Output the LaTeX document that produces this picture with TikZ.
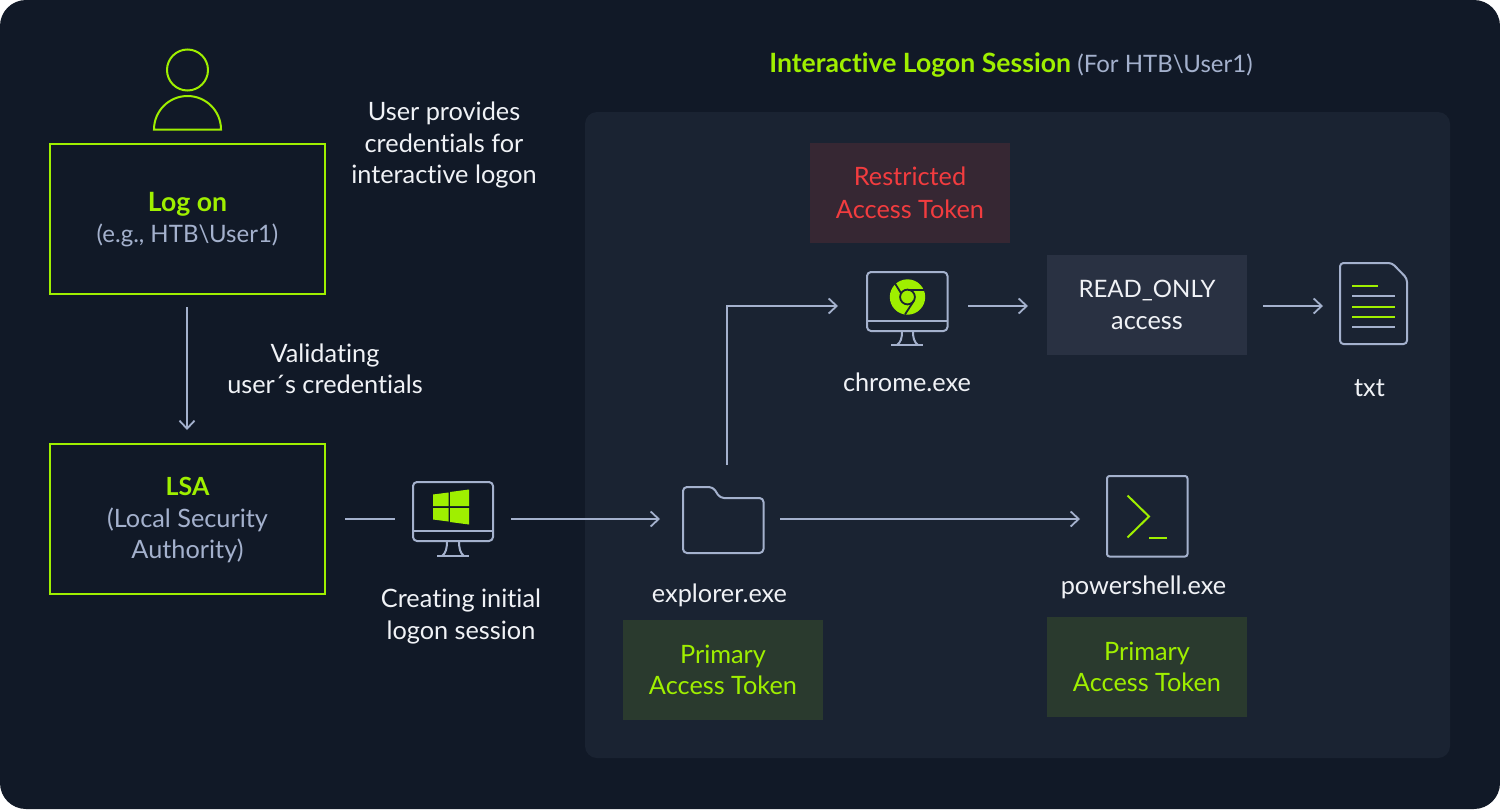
\documentclass[tikz,border=0pt]{standalone}
\usepackage{fontspec}
\setmainfont[Ligatures=NoCommon]{Lato}
\usetikzlibrary{arrows.meta}
\definecolor{bgc}{HTML}{111927}
\definecolor{panelc}{HTML}{1A2332}
\definecolor{lime}{HTML}{9FEF00}
\definecolor{slate}{HTML}{A4B1CD}
\definecolor{whitish}{HTML}{F0F2F6}
\definecolor{redtxt}{HTML}{F23C3F}
\definecolor{redbox}{HTML}{362733}
\definecolor{greenbox}{HTML}{2A3A2E}
\definecolor{greybox}{HTML}{293142}
\newcommand{\mainsz}{\fontsize{25.3}{31.5}\selectfont}
\newcommand{\capsz}{\fontsize{24}{31.5}\selectfont}
\newcommand{\boldsz}{\fontsize{26.6}{31.5}\selectfont\bfseries}
\tikzset{
 x=1pt,y=-1pt,
 txt/.style={font=\mainsz,align=center,text=whitish,inner sep=0pt},
 limebox/.style={draw=lime,line width=2pt,minimum width=275pt,minimum height=150pt,inner sep=0pt},
 boxtext/.style={font=\mainsz,align=center,text=slate,inner sep=0pt},
 tagbox/.style={minimum width=200pt,minimum height=100pt,align=center,inner sep=0pt,font=\mainsz},
 conn/.style={draw=slate,line width=1.8pt,-{Straight Barb[length=8pt,width=15pt,line width=1.8pt]}},
 plainconn/.style={draw=slate,line width=1.8pt},
 icon/.style={draw=slate,line width=2pt,line join=round},
 limeline/.style={draw=lime,line width=2pt},
 glyph/.style={draw=slate,line width=2pt},
}
\begin{document}
\begin{tikzpicture}
\useasboundingbox (0,0) rectangle (1500,809);
\fill[white] (0,0) rectangle (1500,809);
\fill[bgc,rounded corners=26pt] (0,0) rectangle (1500,809);
\fill[panelc,rounded corners=12pt] (585,112) rectangle (1450,758);

\node[txt,anchor=center] (title) at (1011,65) {\textcolor{lime}{\boldsz Interactive Logon Session} \textcolor{slate}{\capsz (For HTB\textbackslash User1)}};

% user icon
\draw[limeline] (187.5,70) circle (20.5);
\draw[limeline] (154,129.5) arc (180:360:33.5) -- cycle;

\node[limebox] (logon) at (187.5,219) {};
\node[boxtext] (logontext) at (187.5,219.5) {\textcolor{lime}{\boldsz Log on}\\{\capsz (e.g., HTB\textbackslash User1)}};
\node[limebox] (lsa) at (187.5,519) {};
\node[boxtext] (lsatext) at (187.5,520.5) {\textcolor{lime}{\fontsize{25}{31.5}\selectfont\bfseries LSA}\\(Local Security\\Authority)};
\node[txt] (provides) at (444,145) {User provides\\credentials for\\interactive logon};
\node[txt] (validating) at (325,369) {Validating\\user´s credentials};

% windows monitor
\coordinate (winmon) at (453,512);
\draw[icon,rounded corners=4pt] (413,482) rectangle (493,541);
\draw[icon] (413,531) -- (493,531);
\draw[icon] (447,541) .. controls (447,548) and (446,553) .. (442,556);
\draw[icon] (459,541) .. controls (459,548) and (460,553) .. (464,556);
\draw[icon] (437,556) -- (469,556);
\fill[lime] (433,494.5) -- (448.5,492.5) -- (448.5,506) -- (433,506) -- cycle;
\fill[lime] (450,492) -- (469,489.5) -- (469,506) -- (450,506) -- cycle;
\fill[lime] (433,508) -- (448.5,508) -- (448.5,521.5) -- (433,519.5) -- cycle;
\fill[lime] (450,508) -- (469,508) -- (469,524.5) -- (450,522) -- cycle;
\node[txt] (creating) at (461,616.5) {Creating initial\\logon session};

% folder
\coordinate (folder) at (723,519);
\draw[icon,rounded corners=4pt] (683,487) -- (713,487) -- (720,498) -- (763.5,498) -- (763.5,553) -- (683,553) -- cycle;
\node[txt] (explorer) at (719.5,595) {explorer.exe};
\node[tagbox,fill=greenbox,text=lime] (primA) at (723,670) {Primary\\Access Token};

% powershell
\coordinate (ps) at (1147,516);
\draw[icon,rounded corners=2.5pt] (1107,476) rectangle (1187.5,556.5);
\draw[limeline] (1127.5,495.5) -- (1149,516.5) -- (1127.5,537.5);
\draw[limeline] (1149,537.5) -- (1167,537.5);
\node[txt] (psname) at (1143.5,587) {powershell.exe};
\node[tagbox,fill=greenbox,text=lime] (primB) at (1147,667) {Primary\\Access Token};

% chrome monitor
\coordinate (chmon) at (907,306);
\draw[icon,rounded corners=4pt] (867,272) rectangle (947.5,331);
\draw[icon] (867,320.5) -- (947.5,320.5);
\draw[icon] (902,331) .. controls (902,338) and (901,342) .. (897,345);
\draw[icon] (913,331) .. controls (913,338) and (914,342) .. (918,345);
\draw[icon] (891,345) -- (923,345);
\fill[lime] (907.5,297) circle (17.7);
\draw[panelc,line width=1.8pt] (907.5,297) circle (7.4);
\draw[panelc,line width=1.8pt] (907.5,289.6) -- (923.5,289.6);
\draw[panelc,line width=1.8pt] (901.1,293.3) -- (893.5,281);
\draw[panelc,line width=1.8pt] (913.9,300.7) -- (905,314.4);
\node[txt] (chrome) at (907,382.5) {chrome.exe};
\node[tagbox,fill=redbox,text=redtxt] (restricted) at (910,193) {\raisebox{1pt}{Restricted}\\Access Token};
\node[tagbox,fill=greybox,text=whitish] (readonly) at (1147,305) {{\capsz READ\_ONLY}\\access};

% text file
\coordinate (file) at (1373,306);
\draw[icon,rounded corners=3.5pt] (1340,263) -- (1392,263) -- (1407,278.5) -- (1407,344) -- (1340,344) -- cycle;
\draw[limeline] (1352,285.5) -- (1378,285.5);
\draw[glyph] (1352,296) -- (1395,296);
\draw[limeline] (1352,306.5) -- (1395,306.5);
\draw[limeline] (1352,316.5) -- (1395,316.5);
\draw[glyph] (1352,327) -- (1395,327);
\node[txt] (txtname) at (1369.5,388) {txt};

% connectors
\coordinate (c1) at (187,307); \coordinate (c2) at (187,430);
\draw[conn] (c1) -- (c2);
\coordinate (c3) at (345,519); \coordinate (c4) at (395,519);
\draw[plainconn] (c3) -- (c4);
\coordinate (c5) at (511,519); \coordinate (c6) at (660,519);
\draw[conn] (c5) -- (c6);
\coordinate (c7) at (727,465); \coordinate (c8) at (838,306);
\draw[conn] (c7) |- (c8);
\coordinate (c9) at (780,519); \coordinate (c10) at (1080,519);
\draw[conn] (c9) -- (c10);
\coordinate (c11) at (968,306); \coordinate (c12) at (1028,306);
\draw[conn] (c11) -- (c12);
\coordinate (c13) at (1263,306); \coordinate (c14) at (1323,306);
\draw[conn] (c13) -- (c14);
\end{tikzpicture}
\end{document}
